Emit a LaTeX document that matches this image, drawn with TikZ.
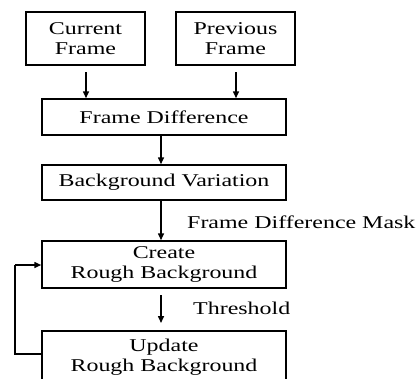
\documentclass[tikz,border=0pt]{standalone}
\usepackage{fontspec}
\setmainfont[FakeStretch=1.33]{Liberation Serif}
\usetikzlibrary{arrows.meta}
\begin{document}
\begin{tikzpicture}[x=1pt,y=-1pt,
  box/.style={draw, line width=1.5pt, inner sep=0pt, align=center,
    font=\fontsize{18}{20}\selectfont},
  lbl/.style={inner sep=0pt, font=\fontsize{18}{20}\selectfont},
  arr/.style={line width=1.5pt, -{Triangle[length=7pt,width=6pt]}},
  ln/.style={line width=1.5pt}]
\useasboundingbox (0,0) rectangle (419,378);
\clip (0,0) rectangle (419,378);
\node[box, minimum width=119pt, minimum height=53pt] (cur) at (85.5,38.5) {Current\\Frame};
\node[box, minimum width=119pt, minimum height=53pt] (prev) at (235.5,38.5) {Previous\\Frame};
\node[box, minimum width=244pt, minimum height=36pt] (fd) at (164,117) {Frame Difference};
\node[box, minimum width=244pt, minimum height=35pt] (bv) at (164,182.5) {Background Variation};
\node[box, minimum width=244pt, minimum height=47pt] (crb) at (164,264.5) {Create\\Rough Background};
\node[box, minimum width=244pt, minimum height=70pt, anchor=north] (urb) at (164,330) {};
\node[lbl, align=center] (urbt) at (164,357) {Update\\Rough Background};
\node[lbl, anchor=west] (mask) at (187,222) {Frame Difference Mask};
\node[lbl, anchor=west] (thr) at (193,308) {Threshold};
\coordinate (c1) at (86,72);
\coordinate (c2) at (236,72);
\coordinate (c3) at (161,295);
\coordinate (c4) at (161,323);
\draw[arr] (c1) -- (c1 |- fd.north);
\draw[arr] (c2) -- (c2 |- fd.north);
\draw[arr] (fd.south -| c3) -- (bv.north -| c3);
\draw[arr] (bv.south -| c3) -- (crb.north -| c3);
\draw[arr] (c3) -- (c4);
\coordinate (l1) at (42,354);
\coordinate (l2) at (15,354);
\coordinate (l3) at (15,265);
\draw[ln] (l1) -- (l2) -- (l3);
\draw[arr] (l3) -- (crb.west |- l3);
\end{tikzpicture}
\end{document}
